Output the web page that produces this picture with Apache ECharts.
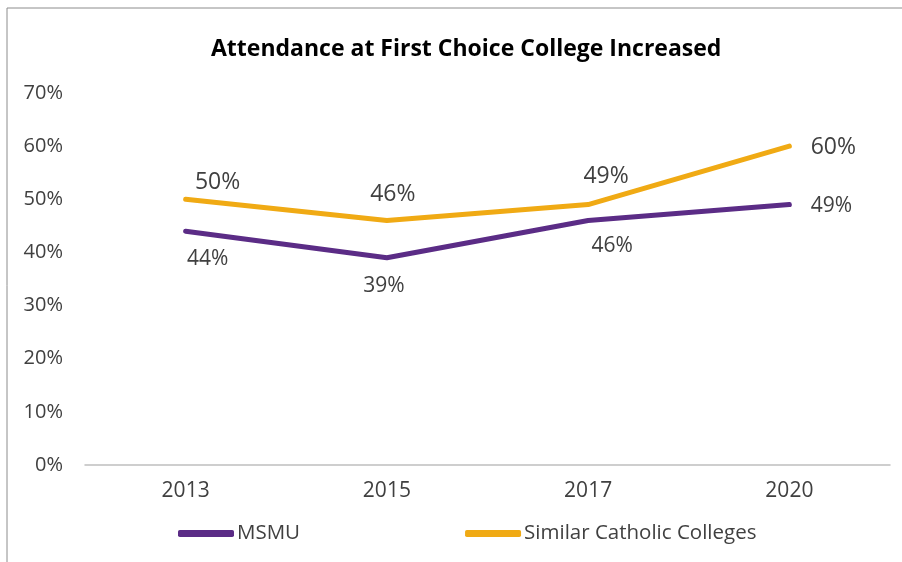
<!DOCTYPE html>
<html>
<head>
<meta charset="utf-8">
<script src="https://cdn.jsdelivr.net/npm/echarts@6/dist/echarts.min.js"></script>
<style>
  html, body { margin: 0; padding: 0; background: #fff; }
  #chart { width: 902px; height: 562px; }
</style>
</head>
<body>
<div id="chart"></div>
<script>
const years = ['2013', '2015', '2017', '2020'];
const msmu = [44, 39, 46, 49];
const similar = [50, 46, 49, 60];
const yTicks = [0, 10, 20, 30, 40, 50, 60, 70];

const chart = echarts.init(document.getElementById('chart'));
const font = '"Open Sans", Lato, sans-serif';

// label offsets from the point, per year
const similarOffsets = [[32, -17], [6, -26], [18, -28], [44, 1]];
const msmuOffsets = [[22, 28], [-3, 28], [24, 25], [42, 1]];

const withLabels = (vals, offsets, size) => vals.map((v, i) => ({
    value: v,
    label: { offset: offsets[i], fontSize: size }
}));

const option = {
    animation: false,
    title: {
        text: 'Attendance at First Choice College Increased',
        left: 206,
        top: 33,
        textStyle: { fontFamily: font, fontWeight: 'bold', fontSize: 23, color: '#000' }
    },
    graphic: [{
        type: 'rect',
        shape: { x: 7, y: 8, width: 1000, height: 1000 },
        style: { fill: 'none', stroke: '#8c8c8c', lineWidth: 1 }
    }],
    legend: {
        bottom: 13,
        left: 173,
        itemWidth: 56,
        itemHeight: 7,
        itemGap: 165,
        icon: 'roundRect',
        textStyle: { fontFamily: font, fontSize: 20.5, color: '#404040', padding: [0, 0, 0, -2] },
        data: ['MSMU', 'Similar Catholic Colleges']
    },
    grid: { left: 85, right: 12, top: 93, bottom: 97 },
    xAxis: {
        type: 'category',
        data: years,
        axisLine: { lineStyle: { color: '#bfbfbf', width: 1.5 } },
        axisTick: { show: false },
        axisLabel: { fontFamily: font, fontSize: 21, color: '#404040', margin: 16 }
    },
    yAxis: {
        type: 'value',
        min: yTicks[0],
        max: yTicks[yTicks.length - 1],
        interval: 10,
        splitLine: { show: false },
        axisLine: { show: false },
        axisTick: { show: false },
        axisLabel: {
            fontFamily: font, fontSize: 20, color: '#404040',
            margin: 22,
            formatter: v => v + '%'
        }
    },
    series: [
        {
            name: 'MSMU',
            type: 'line',
            data: withLabels(msmu, msmuOffsets, 21),
            showSymbol: true,
            symbol: 'circle',
            symbolSize: 1,
            lineStyle: { color: '#5b2c86', width: 5, cap: 'round', join: 'round' },
            itemStyle: { color: '#5b2c86' },
            label: {
                show: true, position: 'inside',
                fontFamily: font, color: '#404040',
                formatter: p => p.value + '%'
            }
        },
        {
            name: 'Similar Catholic Colleges',
            type: 'line',
            data: withLabels(similar, similarOffsets, 23),
            showSymbol: true,
            symbol: 'circle',
            symbolSize: 1,
            lineStyle: { color: '#f0aa14', width: 5, cap: 'round', join: 'round' },
            itemStyle: { color: '#f0aa14' },
            label: {
                show: true, position: 'inside',
                fontFamily: font, color: '#404040',
                formatter: p => p.value + '%'
            }
        }
    ]
};

chart.setOption(option);
</script>
</body>
</html>
